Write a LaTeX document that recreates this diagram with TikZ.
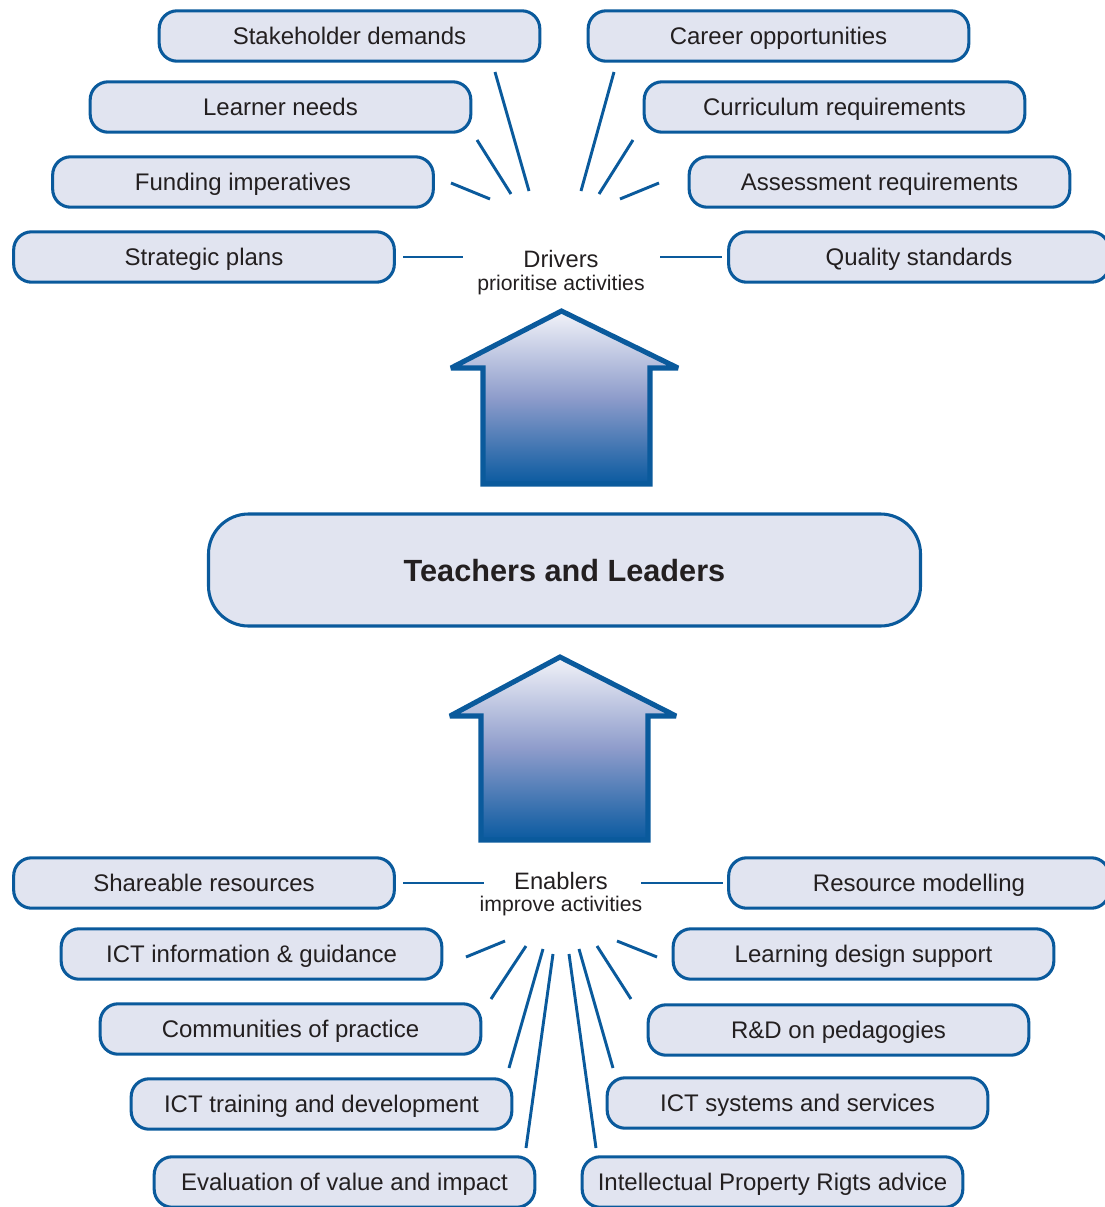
\documentclass[tikz,border=0pt]{standalone}
\usepackage{fontspec}
\setmainfont{Liberation Sans}
\definecolor{bblue}{HTML}{0A5A9C}
\definecolor{bfill}{HTML}{E1E4F0}
\definecolor{btext}{HTML}{231F20}
\definecolor{gtop}{HTML}{F2F3F9}
\definecolor{gmid}{HTML}{8E9CCB}
\definecolor{gbot}{HTML}{0A5AA0}
\begin{document}
\begin{tikzpicture}[x=0.75pt,y=-0.75pt,
  box/.style={draw=bblue, fill=bfill, line width=2.3pt, rounded corners=13.5pt,
    minimum width=285.5pt, minimum height=37.8pt, inner sep=0pt,
    text height=12.9pt, text depth=0pt,
    text=btext, font=\fontsize{18pt}{20pt}\selectfont},
  ray/.style={draw=bblue, line width=2.2pt},
  hub/.style={text=btext, align=center, inner sep=0pt, anchor=base},
  uparrow/.style={draw=bblue, line width=3.8pt, miter limit=2,
    top color=gtop, bottom color=gbot, middle color=gmid}
]
\useasboundingbox (0,0) rectangle (1105,1207);
\clip (0,0) rectangle (1105,1207);

% ---------- top boxes ----------
\node[box] (sd) at (349.5,36) {Stakeholder demands};
\node[box] (co) at (778.5,36) {Career opportunities};
\node[box] (ln) at (280.5,107) {Learner needs};
\node[box] (cr) at (834.5,107) {Curriculum requirements};
\node[box] (fi) at (243,182) {Funding imperatives};
\node[box] (ar) at (879.5,182) {Assessment requirements};
\node[box] (sp) at (204,257) {Strategic plans};
\node[box] (qs) at (919,257) {Quality standards};

\node[hub] (drv) at (561,267) {\fontsize{17.8pt}{20pt}\selectfont Drivers};
\node[hub] (drvs) at (561,290) {\fontsize{15.9pt}{18pt}\selectfont prioritise activities};

% rays top
\coordinate (a1) at (403,257); \coordinate (a2) at (463,257);
\coordinate (b1) at (451,183); \coordinate (b2) at (490,199);
\coordinate (c1) at (477,140); \coordinate (c2) at (511,194);
\coordinate (d1) at (495,72);  \coordinate (d2) at (529,191);
\coordinate (e1) at (614,72);  \coordinate (e2) at (581,191);
\coordinate (f1) at (633,140); \coordinate (f2) at (599,194);
\coordinate (g1) at (659,183); \coordinate (g2) at (620,199);
\coordinate (h1) at (660,257); \coordinate (h2) at (722,257);
\foreach \p in {a,b,c,d,e,f,g,h} \draw[ray] (\p1) -- (\p2);

% ---------- arrows ----------
\path[uparrow] (561.5,311) -- (678,368) -- (650,368) -- (650,484) -- (483,484) -- (483,368) -- (451,368) -- cycle;
\path[uparrow] (560,657) -- (676,716) -- (648,716) -- (648,840) -- (481,840) -- (481,716) -- (450,716) -- cycle;

% ---------- centre ----------
\node[box, minimum width=534pt, minimum height=84pt, rounded corners=30pt,
  text height=16.5pt,
  font=\fontsize{23pt}{26pt}\selectfont\bfseries] (tl) at (564.5,570) {Teachers and Leaders};

% ---------- bottom boxes ----------
\node[box] (sr) at (204,883) {Shareable resources};
\node[box] (rm) at (919,883) {Resource modelling};
\node[box] (ig) at (251.5,954) {ICT information \& guidance};
\node[box] (ld) at (863.5,954) {Learning design support};
\node[box] (cp) at (290.5,1029) {Communities of practice};
\node[box] (rd) at (838.5,1030) {R\&D on pedagogies};
\node[box] (tr) at (321.5,1104) {ICT training and development};
\node[box] (ss) at (797.5,1103) {ICT systems and services};
\node[box] (ev) at (344.5,1182) {Evaluation of value and impact};
\node[box] (ip) at (772.5,1182) {Intellectual Property Rigts advice};

\node[hub] (enb) at (561,889) {\fontsize{17.8pt}{20pt}\selectfont Enablers};
\node[hub] (enbs) at (561,911.5) {\fontsize{15.9pt}{18pt}\selectfont improve activities};

% rays bottom
\coordinate (p1) at (403,883); \coordinate (p2) at (484,883);
\coordinate (q1) at (641,883); \coordinate (q2) at (723,883);
\coordinate (r1) at (466,957); \coordinate (r2) at (505,941);
\coordinate (s1) at (491,999); \coordinate (s2) at (526,946);
\coordinate (t1) at (509,1068); \coordinate (t2) at (543,949);
\coordinate (u1) at (526,1148); \coordinate (u2) at (553,954);
\coordinate (v1) at (596,1148); \coordinate (v2) at (569,954);
\coordinate (w1) at (613,1068); \coordinate (w2) at (579,949);
\coordinate (x1) at (631,999); \coordinate (x2) at (597,946);
\coordinate (y1) at (657,957); \coordinate (y2) at (617,941);
\foreach \p in {p,q,r,s,t,u,v,w,x,y} \draw[ray] (\p1) -- (\p2);
\end{tikzpicture}
\end{document}
